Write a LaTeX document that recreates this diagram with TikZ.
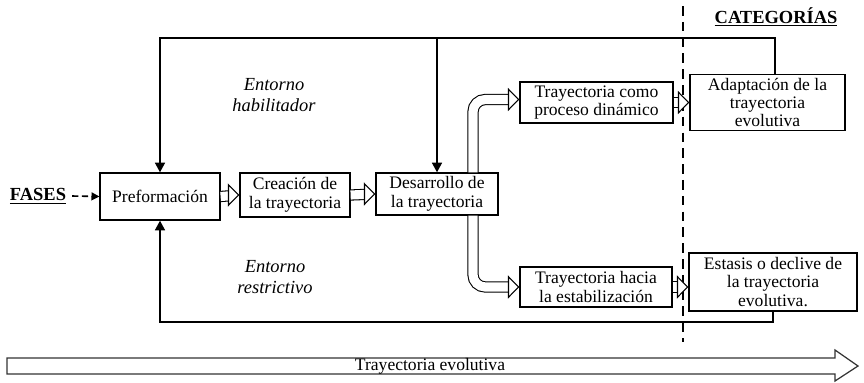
\documentclass[tikz,border=0pt]{standalone}
\usepackage{fontspec}
\setmainfont{Liberation Serif}
\usetikzlibrary{arrows.meta, positioning, calc}
\tikzset{
  phase/.style={rectangle, draw=black, line width=0.7pt, align=center,
    font=\fontsize{10}{10.5}\selectfont, inner sep=2pt},
  catbox/.style={phase},
  envtext/.style={align=center, font=\fontsize{10.5}{11.5}\selectfont\itshape},
  heading/.style={font=\fontsize{10.5}{12}\selectfont\bfseries},
  hollowshaft/.style={double, double distance=5.2pt, line width=0.6pt, shorten >=5pt},
  hollowtip/.style={line width=0.6pt, -{Triangle[length=6.5pt, width=13pt, fill=white]}},
  feedback/.style={line width=1.3pt},
  fbarrow/.style={feedback, -{Triangle[length=5.5pt, width=5.5pt]}},
  divider/.style={line width=1.6pt, dash pattern=on 5.5pt off 3.5pt},
  bigarrow/.style={draw=black!80, line width=0.7pt, fill=white}
}
\begin{document}
\begin{tikzpicture}[x=0.02cm, y=-0.02cm]
  \useasboundingbox (0,0) rectangle (864,382);

  % Phase boxes
  \node[phase, minimum width=2.4cm, minimum height=0.94cm] (pre) at (160,196.5) {Preformación};
  \node[phase, minimum width=2.2cm, minimum height=0.88cm] (crea) at (295,195) {Creación de\\la trayectoria};
  \node[phase, minimum width=2.44cm, minimum height=0.84cm] (desa) at (437,194) {Desarrollo de\\la trayectoria};
  \node[phase, minimum width=3.06cm, minimum height=0.82cm] (dina) at (596.5,102.5) {Trayectoria como\\proceso dinámico};
  \node[phase, minimum width=3.04cm, minimum height=0.80cm] (hacia) at (596,287) {Trayectoria hacia\\la estabilización};

  % Category boxes
  \node[catbox, minimum width=3.1cm, minimum height=1.1cm] (adap) at (767.5,102.5) {Adaptación de la\\trayectoria\\evolutiva};
  \node[catbox, minimum width=3.36cm, minimum height=1.16cm] (esta) at (773,282) {Estasis o declive de\\la trayectoria\\evolutiva.};

  % Headings
  \node[heading] (fases) at (38,196) {\underline{FASES}};
  \node[heading] (cat) at (776,17) {\underline{CATEGORÍAS}};
  \draw[dash pattern=on 3.5pt off 2pt, line width=0.9pt, -{Triangle[length=4.5pt, width=4.5pt]}] (fases.east) -- (pre.west);

  % Environments
  \node[envtext] (hab) at (274,95) {Entorno\\habilitador};
  \node[envtext] (res) at (275,277) {Entorno\\restrictivo};

  % Divider between phases and categories
  \coordinate (dtop) at (683,6);
  \coordinate (dbot) at (683,342);
  \draw[divider] (dtop) -- (dbot);

  % Hollow arrows between boxes
  \foreach \a/\b in {pre/crea, crea/desa, dina/adap} {
    \draw[hollowshaft] (\a.east) -- (\b.west);
    \draw[hollowtip] ([xshift=-2pt]\b.west) -- (\b.west);
  }
  \coordinate (estain) at (hacia.east -| esta.west);
  \draw[hollowshaft] (hacia.east) -- (estain);
  \draw[hollowtip] ([xshift=-2pt]estain) -- (estain);
  \coordinate (dinain) at ([yshift=0.06cm]dina.west);
  \draw[hollowshaft, rounded corners=7pt] ([xshift=0.72cm]desa.north) |- (dinain);
  \draw[hollowtip] ([xshift=-2pt]dinain) -- (dinain);
  \draw[hollowshaft, rounded corners=7pt] ([xshift=0.72cm]desa.south) |- (hacia.west);
  \draw[hollowtip] ([xshift=-2pt]hacia.west) -- (hacia.west);

  % Feedback loops
  \coordinate (tl) at (160,38);
  \coordinate (bl) at (160,322);
  \draw[fbarrow] ([xshift=0.15cm]adap.north) |- (tl) -- (pre.north);
  \draw[fbarrow] (desa.north |- tl) -- (desa.north);
  \draw[fbarrow] (esta.south) |- (bl) -- (pre.south);

  % Evolutionary trajectory
  \draw[bigarrow] (7,358) -- (835,358) -- (835,350) -- (858,366) -- (835,381) -- (835,374) -- (7,374) -- cycle;
  \node[font=\fontsize{10}{12}\selectfont] (tray) at (430,366) {Trayectoria evolutiva};
\end{tikzpicture}
\end{document}
